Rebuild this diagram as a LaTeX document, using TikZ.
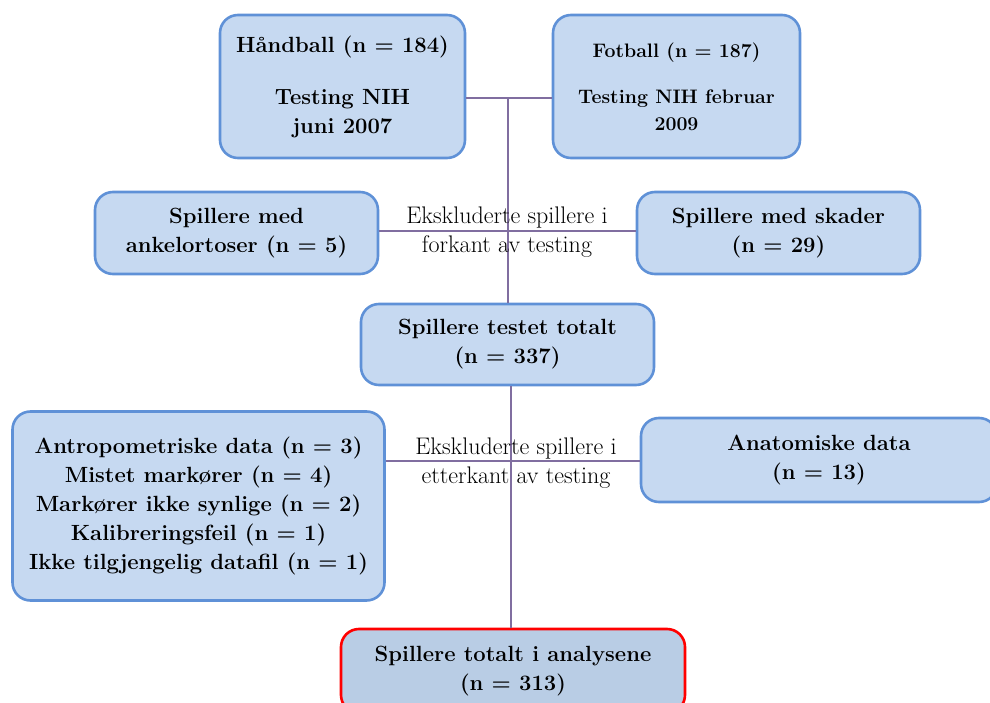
\documentclass[tikz,border=0pt]{standalone}
\usepackage{fontspec}
\definecolor{boxfill}{RGB}{198,217,241}
\definecolor{boxline}{RGB}{95,145,215}
\definecolor{finalfill}{RGB}{185,205,229}
\definecolor{conn}{RGB}{128,110,160}
\tikzset{
  box/.style={draw=boxline, line width=2.6pt, fill=boxfill, rounded corners=18pt,
    align=center, inner sep=0pt, font=\fontsize{22}{29}\selectfont\bfseries},
  finalbox/.style={box, draw=red, fill=finalfill},
  smallbox/.style={box, font=\fontsize{19.5}{27}\selectfont\bfseries},
  conline/.style={draw=conn, line width=1.1pt},
  exlabel/.style={align=center, inner sep=0pt, font=\fontsize{24}{29}\selectfont}
}
\begin{document}
\begin{tikzpicture}[x=1pt,y=-1pt]
\useasboundingbox (0,0) rectangle (990,703);
% boxes
\node[box, minimum width=245pt, minimum height=143pt] (hand) at (342.5,86.5)
  {Håndball (n = 184)\\[23pt] Testing NIH\\ juni 2007};
\node[smallbox, minimum width=247pt, minimum height=143pt] (fot) at (676.5,86.5)
  {Fotball (n = 187)\\[19pt] Testing NIH februar\\ 2009};
\node[box, minimum width=283pt, minimum height=82pt] (ankel) at (236.5,233)
  {Spillere med\\ ankelortoser (n = 5)};
\node[box, minimum width=283pt, minimum height=82pt] (skader) at (778.5,233)
  {Spillere med skader\\ (n = 29)};
\node[box, minimum width=293pt, minimum height=81pt] (tot) at (507.5,344.5)
  {Spillere testet totalt\\ (n = 337)};
\node[box, minimum width=372pt, minimum height=189pt] (antro) at (198.5,506)
  {Antropometriske data (n = 3)\\ Mistet markører (n = 4)\\ Markører ikke synlige (n = 2)\\ Kalibreringsfeil (n = 1)\\ Ikke tilgjengelig datafil (n = 1)};
\node[box, minimum width=356pt, minimum height=84pt] (anat) at (819,460)
  {Anatomiske data\\ (n = 13)};
\node[finalbox, minimum width=344pt, minimum height=84pt] (final) at (513,671)
  {Spillere totalt i analysene\\ (n = 313)};
% junction coordinates
\coordinate (j1) at (508,98);
\coordinate (j2) at (508,231);
\coordinate (j3) at (511,461);
% connectors
\draw[conline] (hand.east |- j1) -- (fot.west |- j1);
\draw[conline] (j1) -- (tot.north -| j1);
\draw[conline] (ankel.east |- j2) -- (skader.west |- j2);
\draw[conline] (tot.south -| j3) -- (final.north -| j3);
\draw[conline] (antro.east |- j3) -- (anat.west |- j3);
% labels
\node[exlabel] (lab1) at (507,232) {Ekskluderte spillere i\\ forkant av testing};
\node[exlabel] (lab2) at (516,463) {Ekskluderte spillere i\\ etterkant av testing};
\end{tikzpicture}
\end{document}
